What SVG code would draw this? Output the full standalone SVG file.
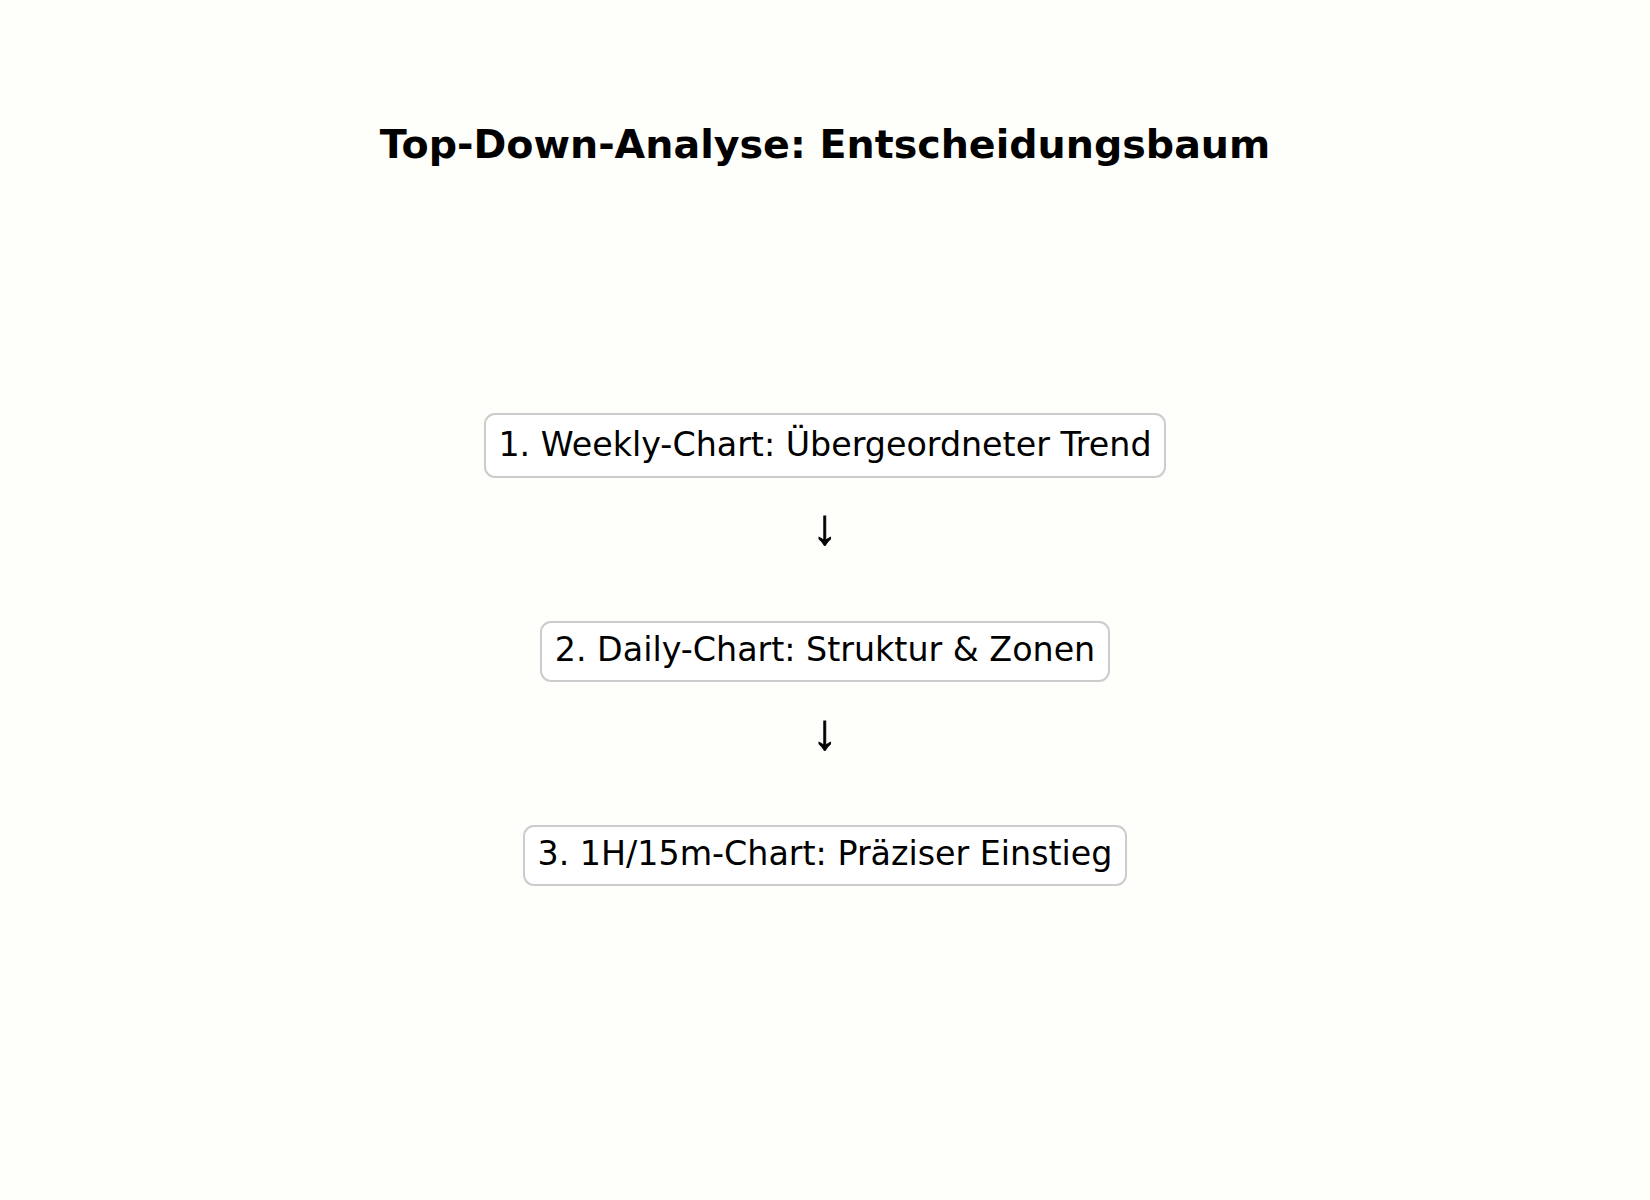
<svg xmlns="http://www.w3.org/2000/svg" width="1650" height="1200" viewBox="0 0 1650 1200">
<style>
.box{fill:#ffffff;stroke:#cccccc;stroke-width:2}
.lbl{font-family:"DejaVu Sans",sans-serif;font-size:33.3px;fill:#000;text-anchor:middle}
.title{font-family:"DejaVu Sans",sans-serif;font-size:39.6px;font-weight:bold;fill:#000;text-anchor:middle}
.arr{font-family:"Liberation Sans",sans-serif;font-size:50px;fill:#000;stroke:#000;stroke-width:0.8;text-anchor:middle}
</style>
<rect width="1650" height="1200" fill="#fefefa"/>
<text class="title" x="825" y="158">Top-Down-Analyse: Entscheidungsbaum</text>
<g id="node1">
<rect class="box" x="485" y="414" width="680" height="63" rx="10"/>
<text class="lbl" x="825" y="456">1. Weekly-Chart: Übergeordneter Trend</text>
</g>
<g id="node2">
<rect class="box" x="541" y="622" width="568" height="59" rx="10"/>
<text class="lbl" x="825" y="661">2. Daily-Chart: Struktur &amp; Zonen</text>
</g>
<g id="node3">
<rect class="box" x="524" y="826" width="602" height="59" rx="10"/>
<text class="lbl" x="825" y="865">3. 1H/15m-Chart: Präziser Einstieg</text>
</g>
<g id="connectors">
<text class="arr" x="825" y="544">↓</text>
<text class="arr" x="825" y="749">↓</text>
</g>
</svg>
